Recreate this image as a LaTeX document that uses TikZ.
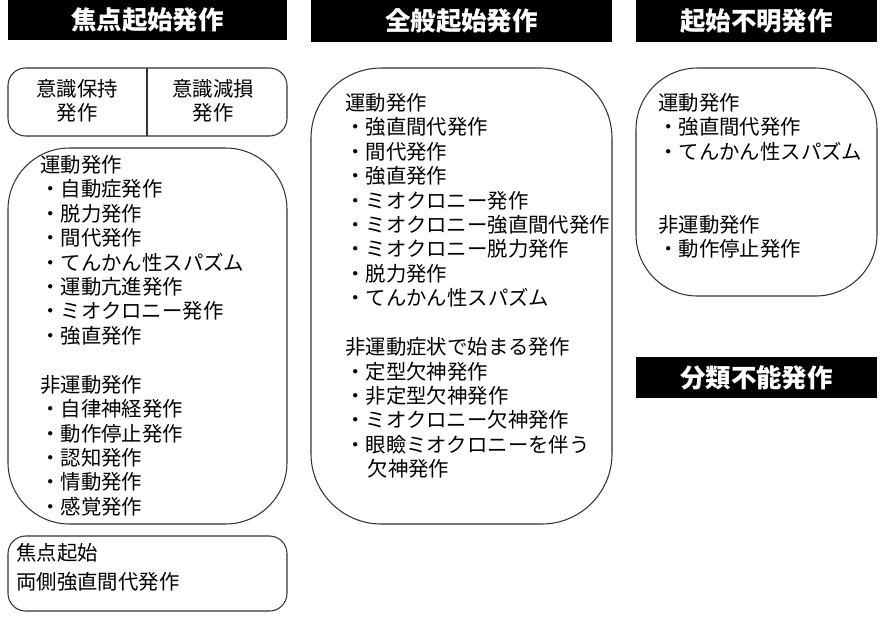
\documentclass[tikz,border=0pt]{standalone}
\usepackage{fontspec}
\setmainfont{Noto Sans CJK JP}
\usetikzlibrary{positioning}

\begin{document}
\begin{tikzpicture}[x=0.02cm,y=-0.02cm,
    header/.style={fill=black,text=white,font=\fontsize{14.5}{16}\selectfont\bfseries,inner sep=0},
    groupbox/.style={draw=black!80,line width=0.6pt},
    itemlist/.style={anchor=north west,inner sep=0,align=left,font=\fontsize{11.6}{13.9}\selectfont}]
        \useasboundingbox (0,0) rectangle (882,620);
        % headers
        \path[header] (8,0) rectangle (287,40);
        \node[header] (focal) at (147.5,20) {焦点起始発作};
        \path[header] (311,0) rectangle (612,42);
        \node[header] (general) at (461.5,21) {全般起始発作};
        \path[header] (636,0) rectangle (877,42);
        \node[header] (unknown) at (756.5,21) {起始不明発作};
        \path[header] (636,357) rectangle (877,398);
        \node[header] (unclass) at (756.5,377.5) {分類不能発作};
        % boxes
        \draw[groupbox,rounded corners=10] (8,68) rectangle (287,136);
        \draw[groupbox] (147,68) -- (147,136);
        \node[align=center,font=\fontsize{11.6}{13.9}\selectfont] (aware) at (77,101) {意識保持\\発作};
        \node[align=center,font=\fontsize{11.6}{13.9}\selectfont] (impaired) at (213,101) {意識減損\\発作};
        \draw[groupbox,rounded corners=35] (8,148) rectangle (287,524);
        \draw[groupbox,rounded corners=10] (8,536) rectangle (287,611);
        \draw[groupbox,rounded corners=40] (311,68) rectangle (612,524);
        \draw[groupbox,rounded corners=35] (636,68) rectangle (877,296);
        % lists
        \node[itemlist] (focalmotor) at (40,155) {運動発作\\・自動症発作\\・脱力発作\\・間代発作\\・てんかん性スパズム\\・運動亢進発作\\・ミオクロニー発作\\・強直発作\\[13.9pt]
            非運動発作\\・自律神経発作\\・動作停止発作\\・認知発作\\・情動発作\\・感覚発作};
        \node[itemlist,font=\fontsize{11.6}{16.5}\selectfont] (bilateral) at (16,543) {焦点起始\\両側強直間代発作};
        \node[itemlist] (genmotor) at (345,93) {運動発作\\・強直間代発作\\・間代発作\\・強直発作\\・ミオクロニー発作\\・ミオクロニー強直間代発作\\・ミオクロニー脱力発作\\・脱力発作\\・てんかん性スパズム\\[13.9pt]
            非運動症状で始まる発作\\・定型欠神発作\\・非定型欠神発作\\・ミオクロニー欠神発作\\・眼瞼ミオクロニーを伴う\\\hspace*{1.1em}欠神発作};
        \node[itemlist] (unkmotor) at (658,93) {運動発作\\・強直間代発作\\・てんかん性スパズム\\[27.8pt]
            非運動発作\\・動作停止発作};
\end{tikzpicture}
\end{document}
